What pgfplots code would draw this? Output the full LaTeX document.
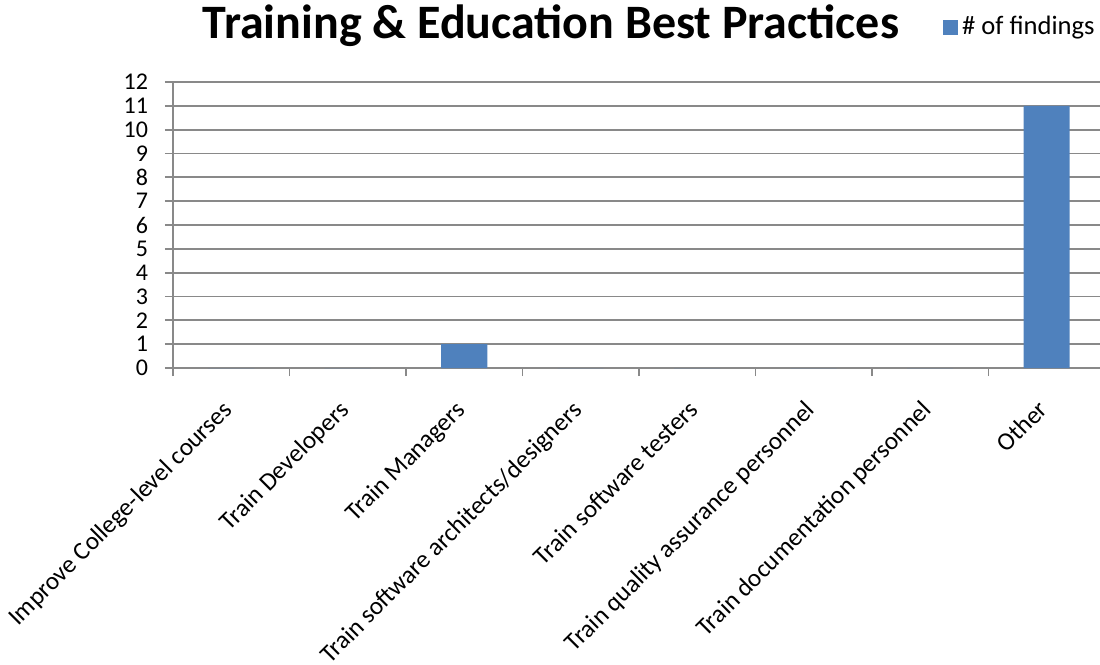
\documentclass[border=0pt]{standalone}
\usepackage{fontspec}
\setmainfont{Carlito}
\usepackage{pgfplots}
\pgfplotsset{compat=1.18}
\definecolor{barblue}{HTML}{4F81BD}
\definecolor{gridgray}{HTML}{898989}
\begin{document}
\begin{tikzpicture}
\begin{axis}[
  scale only axis,
  width=466pt, height=143pt,
  xmin=-0.5, xmax=7.5, ymin=0, ymax=12,
  axis x line*=bottom, axis y line*=left,
  axis line style={gridgray, line width=0.9pt, -},
  tick align=outside,
  major tick length=4pt, minor tick length=4pt,
  ytick={0,...,12},
  ymajorgrids,
  major y grid style={gridgray, line width=0.9pt},
  y tick style={gridgray, line width=0.9pt},
  xtick={0,...,7},
  minor xtick={-0.5,0.5,...,7.5},
  major x tick style={draw=none},
  minor x tick style={gridgray, line width=0.9pt},
  xticklabels={Improve College-level courses, Train Developers, Train Managers,
    Train software architects/designers, Train software testers,
    Train quality assurance personnel, Train documentation personnel, Other},
  xticklabel style={xshift=-5pt, yshift=-6.5pt, rotate=45, anchor=north east,
    font=\fontsize{12.6}{15}\selectfont},
  yticklabel style={font=\fontsize{12}{14}\selectfont, xshift=-5pt},
  /pgf/number format/assume math mode=true,
  legend style={at={(rel axis cs:0.826,1.192)}, anchor=west, draw=none,
    fill=none, inner sep=0pt, font=\fontsize{13.3}{16}\selectfont},
  legend image code/.code={\fill[#1] (0pt,-3.75pt) rectangle (7.5pt,3.75pt);},
]
\addplot[ybar, bar width=0.395, fill=barblue, draw=none] coordinates {
  (0,0) (1,0) (2,1) (3,0) (4,0) (5,0) (6,0) (7,11)
};
\addlegendentry{\# of findings}
\coordinate (O) at (rel axis cs:0,0);
\end{axis}
% title, placed over the whole picture as in the original
\path (O) ++(189pt,164.5pt) node[anchor=base, inner sep=0pt,
  font=\bfseries\fontsize{24}{28}\selectfont] {Training \& Education Best Practices};
\pgfresetboundingbox
\path (O) ++(-86.5pt,-148.5pt) rectangle ++(550pt,332.5pt);
\end{tikzpicture}
\end{document}
